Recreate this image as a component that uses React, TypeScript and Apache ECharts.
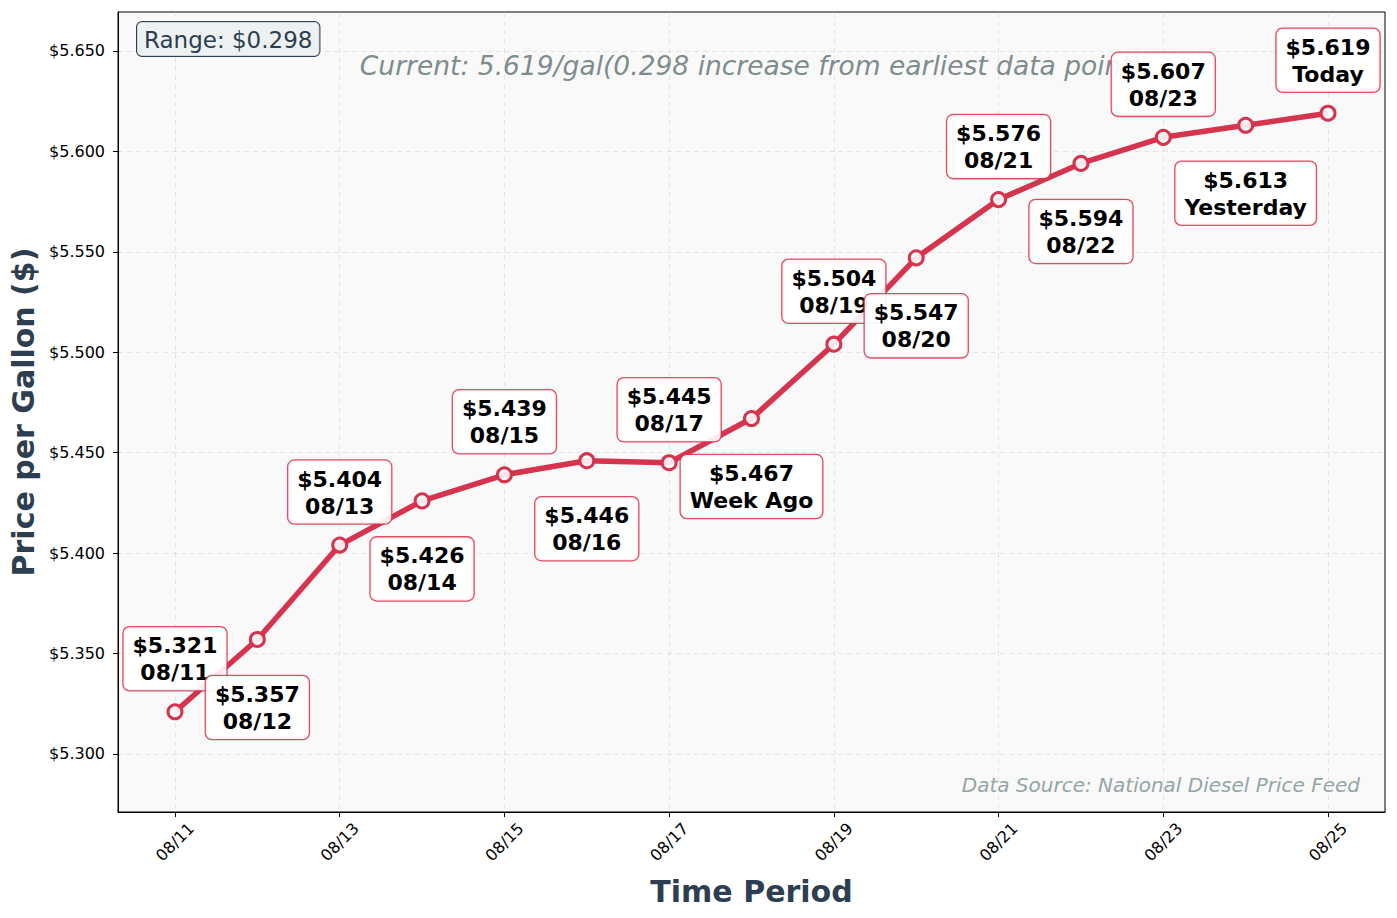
import React, { useRef, useEffect } from 'react';
import * as echarts from 'echarts';

const dates = ['08/11', '08/12', '08/13', '08/14', '08/15', '08/16', '08/17', '08/18', '08/19', '08/20', '08/21', '08/22', '08/23', '08/24', '08/25'];
const prices = [5.321, 5.357, 5.404, 5.426, 5.439, 5.446, 5.445, 5.467, 5.504, 5.547, 5.576, 5.594, 5.607, 5.613, 5.619];
const pointNames = ['08/11', '08/12', '08/13', '08/14', '08/15', '08/16', '08/17', 'Week Ago', '08/19', '08/20', '08/21', '08/22', '08/23', 'Yesterday', 'Today'];
const xTicks = [0, 2, 4, 6, 8, 10, 12, 14];
const yTicks = [5.3, 5.35, 5.4, 5.45, 5.5, 5.55, 5.6, 5.65];

const FONT = 'DejaVu Sans';
const RED = '#d6334e';

const App: React.FC = () => {
  const chartRef = useRef<HTMLDivElement>(null);

  useEffect(() => {
    let chart: echarts.ECharts | null = null;
    if (chartRef.current) {
      chart = echarts.init(chartRef.current, null, { renderer: 'svg' });
      const first = prices[0];
      const last = prices[prices.length - 1];
      const range = Math.max(...prices) - Math.min(...prices);

      const option: echarts.EChartsOption = {
        animation: false,
        textStyle: { fontFamily: FONT },
        grid: {
          left: 118,
          top: 12,
          right: 12,
          bottom: 106,
          show: true,
          backgroundColor: '#f9f9f9',
          borderColor: '#000',
          borderWidth: 1,
        },
        xAxis: {
          type: 'value',
          min: -0.692,
          max: 14.692,
          name: 'Time Period',
          nameLocation: 'middle',
          nameGap: 64,
          nameTextStyle: { fontSize: 30, fontWeight: 'bold', color: '#2c3e50', fontFamily: FONT },
          axisLine: { show: true, onZero: false, lineStyle: { color: '#000', width: 1 } },
          axisTick: { show: true, length: 5, lineStyle: { color: '#000' }, customValues: xTicks },
          axisLabel: {
            customValues: xTicks,
            rotate: 45,
            align: 'center',
            verticalAlign: 'middle',
            margin: 30,
            fontSize: 16,
            color: '#000',
            fontFamily: FONT,
            formatter: (v: number) => dates[Math.round(v)] ?? '',
          },
          splitLine: { show: true, lineStyle: { type: [5, 4], color: 'rgba(200,200,200,0.4)', width: 1 } },
        },
        yAxis: {
          type: 'value',
          min: 5.2711,
          max: 5.6694,
          name: 'Price per Gallon ($)',
          nameLocation: 'middle',
          nameGap: 79,
          nameTextStyle: { fontSize: 30, fontWeight: 'bold', color: '#2c3e50', fontFamily: FONT },
          axisLine: { show: true, onZero: false, lineStyle: { color: '#000', width: 1 } },
          axisTick: { show: true, length: 5, lineStyle: { color: '#000' }, customValues: yTicks },
          axisLabel: {
            customValues: yTicks,
            margin: 13,
            fontSize: 16,
            color: '#000',
            fontFamily: FONT,
            formatter: (v: number) => '$' + v.toFixed(3),
          },
          splitLine: { show: true, lineStyle: { type: [5, 4], color: 'rgba(200,200,200,0.4)', width: 1 } },
        },
        graphic: [
          {
            type: 'text',
            left: 136,
            top: 21,
            z: 10,
            style: {
              text: 'Range: $' + range.toFixed(3),
              fontSize: 23,
              fontFamily: FONT,
              fill: '#2c3e50',
              backgroundColor: 'rgba(236,240,241,0.85)',
              borderColor: '#2c3e50',
              borderWidth: 1,
              borderRadius: 5,
              padding: [6, 7, 5, 7],
            },
          },
          {
            type: 'text',
            x: 751,
            y: 65,
            z: 0,
            style: {
              text: `Current: ${last.toFixed(3)}/gal(${(last - first).toFixed(3)} increase from earliest data point)`,
              fontSize: 26.5,
              fontStyle: 'italic',
              fontFamily: FONT,
              fill: '#7f8c8d',
              align: 'center',
              verticalAlign: 'middle',
            },
          },
          {
            type: 'text',
            x: 1360,
            y: 785,
            style: {
              text: 'Data Source: National Diesel Price Feed',
              fontSize: 20,
              fontStyle: 'italic',
              fontFamily: FONT,
              fill: '#95a5a6',
              align: 'right',
              verticalAlign: 'middle',
            },
          },
        ],
        series: [
          {
            type: 'line',
            data: prices.map((p, i) => ({
              value: [i, p],
              label: {
                show: true,
                position: i % 2 === 0 ? 'top' : 'bottom',
                distance: i % 2 === 0 ? 13 : 28,
                formatter: `$${p.toFixed(3)}\n${pointNames[i]}`,
              },
            })),
            symbol: 'circle',
            symbolSize: 14,
            lineStyle: { color: RED, width: 5.5 },
            itemStyle: { color: 'rgba(255,255,255,0.88)', borderColor: RED, borderWidth: 3 },
            label: {
              fontSize: 22,
              fontWeight: 'bold',
              fontFamily: FONT,
              color: '#000',
              lineHeight: 27,
              align: 'center',
              backgroundColor: 'rgba(255,255,255,0.9)',
              borderColor: 'rgba(214,51,78,0.85)',
              borderWidth: 1.3,
              borderRadius: 6,
              padding: [5, 9, 4, 9],
            },
            labelLayout: { hideOverlap: false },
          },
        ],
      };
      chart.setOption(option);
    }
    return () => {
      if (chart) chart.dispose();
    };
  }, []);

  return <div ref={chartRef} style={{ position: 'absolute', left: 0, top: 0, width: 1397, height: 918 }} />;
};

export default App;
